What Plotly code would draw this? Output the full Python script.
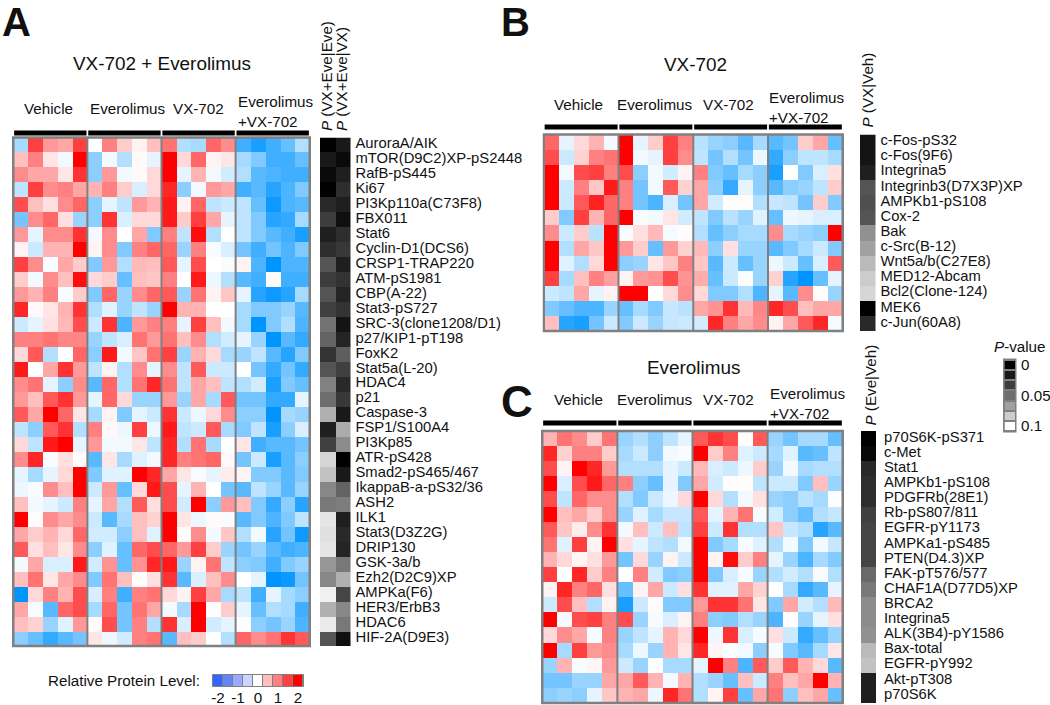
import plotly.graph_objects as go

GROUPS = ['Vehicle', 'Everolimus', 'VX-702', 'Everolimus<br>+VX-702']
GROUP_SIZE = 5

a_labels = ['AuroraA/AIK', 'mTOR(D9C2)XP-pS2448', 'RafB-pS445', 'Ki67', 'PI3Kp110a(C73F8)', 'FBX011', 'Stat6',
            'Cyclin-D1(DCS6)', 'CRSP1-TRAP220', 'ATM-pS1981', 'CBP(A-22)', 'Stat3-pS727', 'SRC-3(clone1208/D1)',
            'p27/KIP1-pT198', 'FoxK2', 'Stat5a(L-20)', 'HDAC4', 'p21', 'Caspase-3', 'FSP1/S100A4', 'PI3Kp85',
            'ATR-pS428', 'Smad2-pS465/467', 'IkappaB-a-pS32/36', 'ASH2', 'ILK1', 'Stat3(D3Z2G)', 'DRIP130',
            'GSK-3a/b', 'Ezh2(D2C9)XP', 'AMPKa(F6)', 'HER3/ErbB3', 'HDAC6', 'HIF-2A(D9E3)']
a_values = [
    [-0.7, 1.5, 0.8, 0.7, 1.5, 0, 1.0, 0.4, 0.1, 0.5, 1.1, -0.6, -0.7, 1.2, 0.9, -1.5, -1.8, -1.5, -1.2, -0.6],
    [0.5, 1.0, 0.2, -0.1, 2.0, -0.9, -0.1, -0.6, 0.05, -0.2, 2.0, 0.3, 1.2, 0.1, 0.2, -0.7, -1.0, -1.5, -1.5, -1.2],
    [0.9, 0.7, 0.7, 0.2, 1.6, -0.9, 0.8, -0.1, 0.05, 0.3, 2.0, -0.2, 0.6, -0.1, -0.35, -0.6, -1.3, -1.4, -1.5, -1.5],
    [-0.5, 1.5, 0.9, 1.0, 0.7, 0.6, 1.0, 0.4, -0.3, 0.3, 1.7, -0.9, -0.1, 0.8, 0.7, -1.5, -1.3, -1.7, -1.4, -1.0],
    [1.4, 0.5, 0.25, 0.9, 1.2, -0.9, -0.2, -0.5, 0.8, 0.6, 1.8, 0.1, 1.2, -0.5, -0.4, -0.5, -1.2, -1.9, -1.4, -1.3],
    [-1.1, 0.9, 1.2, 0.25, -0.8, -0.9, 1.6, -0.3, 0.3, 0.3, 1.8, 0.4, 1.5, 0.7, -0.2, -0.5, -1.0, -1.7, -1.6, -0.7],
    [0.8, -0.2, 0.9, 0.9, 1.6, -0.1, 0.9, 0, 0.7, -1.0, 1.0, -0.5, 1.9, -0.6, 0, -0.5, -1.0, -1.3, -1.5, -1.8],
    [0.1, -0.4, 0.6, 0.6, 2.0, 0.1, 0.9, -1.0, 1.0, 1.2, 1.2, -0.8, 1.0, -0.05, -0.3, -1.1, -1.5, -1.1, -1.4, -1.0],
    [1.5, 0.9, -0.05, 0.7, 0.4, -1.0, 0.8, -0.6, 0.55, 0.5, 1.3, -0.2, 1.4, 0, -0.05, 0.1, -1.4, -2.0, -1.4, -1.4],
    [0.4, -0.1, 0.9, 0.5, 1.9, 0.3, 0.4, -1.2, 0.5, 0.45, 1.0, 0, 1.8, -0.15, -0.6, -1.3, -1.5, 0.05, -1.5, -1.5],
    [0.8, 0.6, 1.0, -0.05, 0.4, -1.0, 1.2, -0.8, 0.9, 1.2, 1.3, -0.8, 1.1, 0.1, 0.45, -0.2, -1.7, -1.9, -1.7, -0.7],
    [1.7, 0.05, 0.2, 0.6, 1.6, -0.6, -0.25, -0.8, -0.5, -0.8, 2.0, 0.6, 0.6, 0, 0, -0.7, -1.0, -1.0, -0.8, -1.3],
    [-0.4, -0.2, 0.25, 0.55, 1.4, -0.4, 1.6, -1.4, 0.8, 1.0, 1.0, -0.2, 1.5, 0.5, -0.1, -0.7, -2.0, -1.0, -0.6, -1.4],
    [1.0, 1.0, 1.1, 0.95, 0.95, -0.8, -0.5, -0.3, 1.1, 0.8, 1.1, 0.5, 0.9, -0.6, -0.35, -0.2, -0.8, -2.0, -1.3, -1.6],
    [0.3, 1.3, -0.6, 0, 1.2, -0.9, 1.8, -0.1, 0.45, 1.1, 1.5, -0.8, 0.6, 0.3, -0.7, -0.8, -0.5, -1.3, -1.7, -1.0],
    [1.8, 0, 0.7, 1.6, 0.8, -0.5, 0.1, -0.6, 0.9, -0.2, 0.9, -0.5, 1.3, -0.4, -0.4, 0, -1.1, -1.6, -1.1, -1.6],
    [0.9, 1.1, -0.2, -0.9, 0.9, -1.3, 1.2, -0.6, 1.1, 1.7, 1.1, -0.5, 0.7, 0.5, -0.5, -0.6, -0.35, -1.8, -1.0, -1.2],
    [0.8, 0.5, 1.3, 1.6, 0.8, -0.2, 1.2, 0.3, -0.8, -0.8, 0.8, -0.8, 0.7, -0.7, 1.3, -1.1, -1.1, -1.6, -1.6, -0.2],
    [1.3, 0.7, 2.0, 1.2, 0.2, -0.7, 0.1, -1.0, -0.2, -0.4, 1.6, -0.4, -0.15, 0.3, 0.9, -0.9, -0.9, -2.0, -0.7, -0.8],
    [-0.5, -0.9, 1.3, 1.6, -0.6, 1.0, 0.05, -0.15, 1.5, -0.15, 1.8, -0.5, -0.4, 1.3, -0.7, -1.0, -0.5, -1.8, -0.9, -0.3],
    [0.3, -0.5, 1.8, 2.0, -0.2, 0.8, -0.1, -0.1, 0.2, -0.5, 1.7, -0.6, 1.1, -0.7, 0, 0.2, -1.5, -1.3, -1.3, -1.1],
    [0.9, 1.7, -0.05, 0.25, 0.02, -1.3, 0.2, -0.7, -0.25, -0.1, 1.7, 1.0, 1.1, 1.2, 0.05, -1.1, -0.4, -1.8, -1.3, -0.9],
    [-0.2, -0.7, -0.2, 0.3, 2.0, -1.0, -0.25, -0.25, 2.0, 1.7, 0.7, 0.2, -0.05, -0.2, 0.15, 0.1, -1.0, -1.0, -1.3, -1.0],
    [-0.15, -0.05, 0.9, 0.5, 2.0, -0.4, 0.8, -1.2, 0.3, 1.8, 1.4, -0.2, 0.6, 0, -1.1, -1.3, -0.5, -0.8, -1.3, -0.8],
    [0.5, -0.1, -0.2, -0.4, 1.0, -0.2, 0.7, -0.6, 1.3, 0.25, 1.4, -0.35, 2.0, -0.9, 0.8, 0.5, -1.0, -1.6, -0.9, -1.7],
    [2.0, 0.02, 0.9, 0.7, 0.9, -0.4, -1.3, -0.7, 0.5, 0.35, 2.0, 0.2, -0.15, 0.05, -0.05, -1.3, -1.0, -1.4, -1.0, -0.5],
    [0.7, 0.4, 0.6, 0.3, 1.2, -0.35, -0.35, -0.9, 0.5, -0.25, 2.0, 0.03, 0.9, -0.1, 0.45, -0.6, -0.1, -1.7, -1.1, -1.9],
    [1.3, 0.25, 0.5, 0.2, 0.9, -0.9, -0.25, -1.2, 1.2, 1.4, 1.2, 0.8, 1.5, 0.4, -0.8, -1.1, -0.8, -1.3, -1.5, -1.4],
    [-0.1, 0.7, -0.3, -0.3, 1.8, -0.35, 0.85, -1.2, 0.85, 1.7, 1.8, -0.8, 0.1, 1.1, -0.5, -0.9, -1.0, -1.5, -1.0, -0.8],
    [0.5, 1.1, 0.2, 0.7, 0.9, -1.0, 1.1, 0.5, 0.02, 0.25, 1.6, -1.3, -0.3, 0.5, 0.9, 0, -0.2, -2.0, -1.9, -1.1],
    [-2.0, 0.3, 1.0, 0.6, 1.4, -0.3, 1.0, -1.5, 1.0, 1.1, 0.3, 0.1, 1.5, 0.7, -0.7, -0.5, -1.5, -0.2, -0.7, -0.9],
    [0.7, -0.05, -1.3, 1.2, 1.4, -0.7, 1.2, -1.1, 1.1, 0.7, -0.1, -0.7, 2.0, 0.02, 0.4, -0.2, -1.2, -0.6, -0.7, -1.5],
    [0.5, 0.35, -0.8, -0.25, 0.8, 0.03, 1.4, -1.1, 1.0, -0.6, 1.6, -0.3, 2.0, -0.35, -0.2, -0.03, -0.9, -1.1, -0.8, -1.4],
    [-0.9, -1.2, -1.6, -1.3, -1.1, 0.2, -0.15, -0.35, 1.0, 1.1, -1.3, 0.5, 0.4, -0.02, -0.6, 1.2, 0.9, 1.1, 1.6, 1.3],
]
a_p_eve = [0, .010, .004, 0, .016, .024, .012, .018, .033, .024, .033, .025, .045, .039, .020, .033, .051, .043,
           .069, .012, .025, .084, .076, .053, .047, .090, .088, .090, .059, .053, .094, .069, .092, .033]
a_p_vx = [.010, .004, .012, .018, .012, .006, .018, .022, .012, .020, .014, .020, .008, .014, .037, .025, .016, .022,
          .010, .067, .055, 0, .010, .039, .049, .012, .016, .014, .047, .069, .027, .053, .047, .006]

b_labels = ['c-Fos-pS32', 'c-Fos(9F6)', 'Integrina5', 'Integrinb3(D7X3P)XP', 'AMPKb1-pS108', 'Cox-2', 'Bak',
            'c-Src(B-12)', 'Wnt5a/b(C27E8)', 'MED12-Abcam', 'Bcl2(Clone-124)', 'MEK6', 'c-Jun(60A8)']
b_values = [
    [1.2, -0.2, 0.3, 0.6, -0.1, 2.0, -0.2, 0.4, 1.5, 1.0, -0.55, -0.8, -0.9, -1.3, -0.7, -1.3, -1.1, 0.4, 0.7, -1.2],
    [1.4, -0.4, 0.35, 1.0, 1.1, 2.0, -0.1, -0.2, 1.5, 0.9, -0.5, -1.1, -0.6, -1.1, -0.15, -1.6, -0.9, -0.5, -0.5, -0.7],
    [2.0, -0.1, 1.4, 1.5, 1.0, 1.4, -0.9, -0.1, -0.35, 0.1, 1.0, -1.0, -1.2, -0.7, -0.9, -1.8, 0, -1.0, -0.3, 0.25],
    [2.0, -0.4, 1.0, 0.45, 1.8, 1.0, -1.1, -0.1, 1.3, 0.35, 0.7, -0.9, -1.6, -0.2, -0.9, -1.3, -0.9, -0.8, -0.5, 0.4],
    [2.0, -0.4, 1.3, 1.75, 1.2, 1.0, -1.1, -1.4, -0.3, -1.1, 0.7, -0.35, 0.02, 0.02, -0.6, -0.45, -0.5, -1.1, 0.4, -1.0],
    [0.4, -1.0, 1.5, 0.6, 1.2, 2.0, -0.05, -0.1, 0.2, -0.35, -0.5, -1.0, -0.55, -0.8, -0.25, -1.2, -0.15, -0.2, -0.3, -0.3],
    [0.9, -0.4, 0.4, -0.55, 2.0, -0.05, 0.25, 0.55, -0.08, 0.02, -0.6, -1.2, -0.9, -0.7, -0.7, 0.9, -0.7, -0.8, -0.9, 2.0],
    [2.0, -0.6, 0.7, 0.45, 2.0, 0.8, 0.4, -1.2, 0.8, 0.35, 0.55, -0.9, 0.25, -0.8, -0.8, -1.3, -1.0, -0.7, -0.4, -1.0],
    [2.0, -0.25, -0.6, 0.3, 2.0, -0.9, -0.8, 0.2, 0.45, 1.0, 0.45, -1.3, -0.4, -1.2, -0.8, -0.15, -0.4, -1.2, -0.3, 1.3],
    [1.5, -0.7, 0.5, 1.0, 0.75, 0.1, 0.8, 0.85, 1.4, 0.85, 0.65, -1.2, -0.4, -0.03, -0.8, 0.35, -1.7, -2.0, -1.2, -0.2],
    [-0.4, -0.5, 0.7, -0.2, 0.1, 2.0, 2.0, 0, 0.3, 0.9, 0.3, -1.0, -1.0, -0.6, -1.4, -0.2, -1.3, 0.9, 0.02, -0.8],
    [-1.0, -1.2, -1.4, -1.4, -0.8, -1.2, -0.7, -1.0, -0.45, -0.55, 0.7, 0.85, 1.6, 0.55, 0.95, 1.7, 1.4, 0.5, 0.7, 0.7],
    [0.5, -1.7, -1.8, -1.1, -0.4, -1.0, -0.4, -0.8, -0.45, -0.4, -0.35, 1.7, 1.0, 0.7, 0.9, 0.1, 0.7, 1.3, 1.7, -0.08],
]
b_p_vx = [.008, .008, .012, .033, .031, .033, .057, .063, .073, .080, .084, 0, .016]

c_labels = ['p70S6K-pS371', 'c-Met', 'Stat1', 'AMPKb1-pS108', 'PDGFRb(28E1)', 'Rb-pS807/811', 'EGFR-pY1173',
            'AMPKa1-pS485', 'PTEN(D4.3)XP', 'FAK-pT576/577', 'CHAF1A(D77D5)XP', 'BRCA2', 'Integrina5',
            'ALK(3B4)-pY1586', 'Bax-total', 'EGFR-pY992', 'Akt-pT308', 'p70S6K']
c_values = [
    [0.6, 1.1, 0.9, 0.4, 1.1, -0.8, -0.6, -0.9, -0.5, -0.2, 1.3, 1.6, 1.4, 0.02, 1.3, -0.8, -1.1, -0.7, -0.7, -1.2],
    [1.7, 0.35, 1.0, 1.0, 0.4, -0.7, -0.4, -0.9, -0.1, -0.05, 2.0, 0.4, 1.0, -0.25, -0.4, -0.7, -0.25, -1.3, -1.2, -0.5],
    [1.4, 0.1, 2.0, 1.7, 0.8, -0.6, -0.6, -0.6, -0.2, -0.4, 0.55, -0.3, -0.4, -0.15, 0.4, -0.8, -0.1, -0.7, -0.6, -0.6],
    [2.0, -0.3, 1.4, 1.8, 1.2, 1.0, -0.9, -1.2, -0.2, -1.0, 0.7, -0.35, 0.02, 0.02, -0.5, -0.4, -0.4, -1.0, 0.5, -0.8],
    [1.4, -0.5, 1.2, 0.9, 0.9, -0.6, -1.0, -0.4, -0.15, 0.3, 2.0, 0.3, -0.6, -0.1, 0.25, -0.8, -0.9, -0.55, -0.7, -0.03],
    [2.0, 0.5, 0.7, 0.4, 0.9, -0.8, -0.25, -0.7, -0.45, -0.45, 1.3, -0.2, 0.6, 1.1, -0.08, -0.35, -0.9, -1.2, -0.6, -0.45],
    [1.3, 0.45, 0.15, 0.9, 1.6, -0.1, 0.5, -0.4, 0.5, -0.5, 1.5, -0.4, 1.6, -0.6, -0.6, 0.45, -0.45, -0.6, -1.7, -1.3],
    [1.1, -0.25, 1.5, 0.1, 2.0, 0.25, -0.2, -0.5, -0.6, -0.1, 2.0, -1.0, -0.7, -0.05, -0.25, -0.6, -0.1, -1.0, -0.1, -0.45],
    [0.6, 0.3, 0.08, 0.25, 0.8, -1.1, 0.3, -0.8, 0.1, -0.4, 2.0, 0.1, 1.9, 0.4, 1.0, -0.2, -0.8, -1.4, -0.7, -1.0],
    [1.5, 0, 1.7, 0.4, 1.0, 0, 1.0, -0.35, -1.0, -0.9, 2.0, -1.0, -0.3, -0.08, -0.8, -0.6, -0.35, -0.6, -0.05, -0.6],
    [0.1, 1.7, 1.0, 1.2, 0.25, -1.2, 0.1, 0.7, -0.4, 0.25, 1.6, -0.25, -0.25, 0.7, 0.35, -0.02, -0.7, -1.6, -1.3, -0.2],
    [-0.4, 1.4, 0.5, -0.6, 0.1, -1.8, -0.4, 0.03, -1.0, -1.0, 0.8, 1.6, 1.6, 1.1, 0.2, -1.0, 0.7, -0.35, -0.6, 0.55],
    [2.0, -0.08, 1.4, 1.5, 1.0, 1.4, -0.8, -0.08, -0.3, 0.1, 1.0, -0.9, -1.0, -0.6, -0.8, -1.4, 0, -0.8, -0.2, 0.25],
    [0.3, 0.9, 0.7, -0.08, 1.0, -0.8, -0.5, -0.2, 0.6, 0.3, 2.0, -0.15, 1.6, -0.3, -0.08, 0.25, -0.4, -1.6, -1.2, -0.8],
    [2.0, -0.7, 1.5, 0.8, 0.9, -0.7, -0.15, -0.8, 0.6, 0.2, 1.7, 0.08, -0.03, -0.1, -0.9, -0.08, -1.0, -1.3, -0.7, 0.2],
    [-0.8, 0.6, -0.05, 0.08, 0.8, -0.4, -0.8, -0.02, -0.7, -0.7, -0.2, 2.0, 1.0, -1.4, 1.3, 0.4, 1.3, 0.6, 0.3, -1.3],
    [-1.1, -1.1, -0.8, -0.8, 0.7, 0.7, 1.3, 0.6, -0.1, 0.6, -0.6, -0.8, -1.2, 0.5, -0.4, 1.0, 0.5, 0.7, 2.0, 0.6],
    [-0.9, -0.8, -0.9, -0.2, 0.45, 0.6, 0.7, -0.15, 1.7, 1.1, -0.6, 0.08, 1.5, -1.2, 0.7, 1.1, -0.9, 0.5, 0.7, -1.2],
]
c_p_eve = [0, .003, .016, .018, .018, .025, .027, .027, .027, .041, .047, .055, .055, .057, .073, .076, .012, .012]

level_ticks = [-2, -1.5, -1, -0.5, 0, 0.5, 1, 1.5, 2]
level_colors = ['#3366ff', '#6685f5', '#99aaff', '#ccd5ff', '#ffffff', '#ffbfbf', '#ff8080', '#ff4040', '#ff0000']
level_ticktext = ['-2', '-1', '0', '1', '2']
p_legend = [0, .010, .024, .043, .063, .080, .100]
p_ticktext = ['0', '0.05', '0.1']

FONT = 'Liberation Sans, Arial, sans-serif'
INK = '#111111'
WIDTH, HEIGHT = 1050, 705
GREY = '#808080'
HEAT = [[0, '#0094ff'], [0.5, '#ffffff'], [1, '#ff0000']]
GRAYS = [[0, '#000000'], [1, '#ffffff']]

fig = go.Figure()
layout = dict(shapes=[], annotations=[])
n_axes = 0


def fx(px):
    return px / WIDTH


def fy(px):
    return 1 - px / HEIGHT


def add_axes(x0, x1, y0, y1):
    """Make a new x/y axis pair at a pixel box, returns the trace refs."""
    global n_axes
    n_axes += 1
    s = '' if n_axes == 1 else str(n_axes)
    # the default template turns automargin on, which would shrink the page
    base = dict(showgrid=False, zeroline=False, showline=False, showticklabels=False, ticks='', fixedrange=True,
                automargin=False)
    layout['xaxis' + s] = dict(base, domain=[fx(x0), fx(x1)], anchor='y' + s)
    layout['yaxis' + s] = dict(base, domain=[fy(y1), fy(y0)], anchor='x' + s, autorange='reversed')
    return 'x' + s, 'y' + s, s


def text(x, y, s, size=15.2, xanchor='center', yanchor='middle', angle=0, align='center'):
    layout['annotations'].append(dict(x=fx(x), y=fy(y), xref='paper', yref='paper', text=s, showarrow=False,
                                      xanchor=xanchor, yanchor=yanchor, textangle=angle, align=align,
                                      font=dict(size=size, family=FONT, color=INK)))


def panel(values, labels, p_columns, x0, x1, y0, y1, px0, px1, bar_y, label_xs, label_y, ticklen):
    xr, yr, s = add_axes(x0, x1, y0, y1)
    fig.add_trace(go.Heatmap(z=values, y=labels, colorscale=HEAT, zmin=-2, zmax=2, showscale=False,
                             xaxis=xr, yaxis=yr))
    layout['yaxis' + s]['type'] = 'category'
    ncol = len(values[0])
    # frame and the group dividers
    layout['shapes'].append(dict(type='rect', xref=xr, yref='y%s domain' % s, x0=-0.5, x1=ncol - 0.5, y0=0, y1=1,
                                 line=dict(color=GREY, width=2.5)))
    for g, name in enumerate(GROUPS):
        start = g * GROUP_SIZE - 0.5
        end = start + GROUP_SIZE
        if g:
            layout['shapes'].append(dict(type='line', xref=xr, yref='y%s domain' % s, x0=start, x1=start, y0=0, y1=1,
                                         line=dict(color=GREY, width=2)))
        layout['shapes'].append(dict(type='rect', xref=xr, yref='paper', x0=start + 0.06, x1=end - 0.06,
                                     y0=fy(bar_y + 2.5), y1=fy(bar_y - 2.5), fillcolor='black', line_width=0))
        two_lines = '<br>' in name
        text(label_xs[g], label_y + (3.5 if two_lines else 0), name, align='left')
    # P-value columns, protein names sit on the right of them
    xr, yr, s = add_axes(px0, px1, y0, y1)
    z = [list(row) for row in zip(*p_columns)]
    fig.add_trace(go.Heatmap(z=z, y=labels, colorscale=GRAYS, zmin=0, zmax=0.1, showscale=False,
                             xaxis=xr, yaxis=yr))
    layout['yaxis' + s].update(type='category', side='right', showticklabels=True, ticks='outside', ticklen=ticklen,
                               tickcolor='rgba(255,255,255,0)', tickfont=dict(size=14.8, family=FONT, color=INK),
                               tickmode='array', tickvals=labels, ticktext=labels, ticklabelshift=2)


panel(a_values, a_labels, [a_p_eve, a_p_vx], 12, 311, 137.5, 646, 320, 350.5, 133, [48, 128, 198, 275.5], 108, 1)
panel(b_values, b_labels, [b_p_vx], 542.5, 844, 134.5, 331, 860, 875.5, 127, [578, 655, 728, 806.5], 104, 1)
panel(c_values, c_labels, [c_p_eve], 541, 844, 431, 703, 861, 876, 423, [578, 655, 728, 808], 399.5, 4)

# relative protein level legend
xr, yr, s = add_axes(213, 303, 675, 686)
layout['shapes'].append(dict(type='rect', xref='paper', yref='paper', x0=fx(212.5), x1=fx(303.5), y0=fy(686.5),
                             y1=fy(674.5), fillcolor=GREY, line=dict(color=GREY, width=1), layer='below'))
fig.add_trace(go.Heatmap(z=[list(range(len(level_colors)))], x=level_ticks, y=[0], xgap=1, showscale=False,
                         colorscale=[[i / 8, c] for i, c in enumerate(level_colors)], xaxis=xr, yaxis=yr))
layout['xaxis' + s].update(showticklabels=True, tickmode='array', tickvals=level_ticks[::2],
                           ticktext=level_ticktext, tickfont=dict(size=15.2, family=FONT, color=INK),
                           ticks='', ticklabelstandoff=1)

# P-value legend
xr, yr, s = add_axes(1004.5, 1015, 360, 431)
layout['shapes'].append(dict(type='rect', xref='paper', yref='paper', x0=fx(1004), x1=fx(1015.5), y0=fy(431.5),
                             y1=fy(359.5), fillcolor=GREY, line=dict(color=GREY, width=2), layer='below'))
fig.add_trace(go.Heatmap(z=[[p] for p in p_legend], colorscale=GRAYS, zmin=0, zmax=0.1, ygap=2, showscale=False,
                         xaxis=xr, yaxis=yr))
layout['yaxis' + s].update(side='right', showticklabels=True, tickmode='array', tickvals=[0, 3, 6],
                           ticktext=p_ticktext, tickfont=dict(size=15.2, family=FONT, color=INK),
                           ticks='outside', ticklen=2, tickcolor='rgba(255,255,255,0)')

text(162, 63, 'VX-702 + Everolimus', size=18.9)
text(695, 64, 'VX-702', size=18.9)
text(693, 367, 'Everolimus', size=18.9)
text(0, 22, '<b>A</b>', size=40, xanchor='left')
text(499, 22, '<b>B</b>', size=40, xanchor='left')
text(499, 401, '<b>C</b>', size=44, xanchor='left')
text(327, 133, '<i>P</i> (VX+Eve|Eve)', angle=-90, yanchor='bottom')
text(342, 133, '<i>P</i> (VX+Eve|VX)', angle=-90, yanchor='bottom')
text(867, 130, '<i>P</i> (VX|Veh)', angle=-90, yanchor='bottom')
text(870, 428, '<i>P</i> (Eve|Veh)', angle=-90, yanchor='bottom')
text(1020, 347, '<i>P</i>-value')
text(202, 680, 'Relative Protein Level:', xanchor='right')

fig.update_layout(width=WIDTH, height=HEIGHT, margin=dict(l=0, r=0, t=0, b=0), autosize=False,
                  paper_bgcolor='white', plot_bgcolor='white', showlegend=False, **layout)
fig.write_html("out.html", config={'displayModeBar': False}, post_script="document.body.style.margin='0';")
